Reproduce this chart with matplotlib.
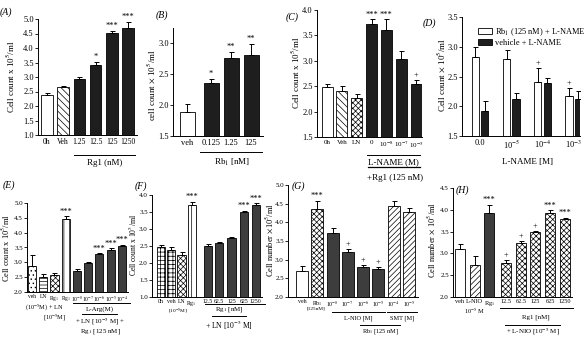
import numpy as np
import matplotlib.pyplot as plt
from matplotlib.lines import Line2D
from matplotlib.patches import Patch

W, H = 586, 342
plt.rcParams['font.family'] = ['Liberation Serif', 'DejaVu Serif']
plt.rcParams['mathtext.fontset'] = 'stix'
plt.rcParams['hatch.linewidth'] = 0.5
plt.rcParams['font.size'] = 6

# ---- data ----
a_labels = ['0h', 'Veh', '1.25', '12.5', '125', '1250']
a_vals = [2.38, 2.65, 2.92, 3.42, 4.52, 4.70]
a_err = [0.07, 0.04, 0.08, 0.10, 0.07, 0.20]
a_sig = ['', '', '', '*', '***', '***']

b_labels = ['veh', '0.125', '1.25', '125']
b_vals = [1.88, 2.35, 2.76, 2.81]
b_err = [0.14, 0.07, 0.10, 0.18]
b_sig = ['', '*', '**', '**']

c_labels = ['0h', 'Veh', 'LN', '0', r'10$^{-8}$', r'10$^{-7}$', r'10$^{-5}$']
c_vals = [2.49, 2.40, 2.27, 3.72, 3.60, 3.04, 2.55]
c_err = [0.06, 0.10, 0.08, 0.10, 0.22, 0.16, 0.07]
c_sig = ['', '', '', '***', '***', '', '+']

d_labels = ['0.0', r'10$^{-5}$', r'10$^{-4}$', r'10$^{-3}$']
d_rb1 = [2.83, 2.79, 2.40, 2.18]
d_rb1_err = [0.17, 0.16, 0.25, 0.13]
d_rb1_sig = ['', '', '+', '+']
d_veh = [1.92, 2.12, 2.39, 2.13]
d_veh_err = [0.16, 0.10, 0.09, 0.12]

e_labels = ['veh', 'LN', r'Rg$_1$', r'Rg$_1$', r'10$^{-8}$', r'10$^{-7}$',
            r'10$^{-6}$', r'10$^{-5}$', r'10$^{-4}$']
e_vals = [2.87, 2.52, 2.57, 4.45, 2.72, 2.97, 3.27, 3.42, 3.55]
e_err = [0.37, 0.08, 0.08, 0.10, 0.04, 0.03, 0.03, 0.05, 0.04]
e_sig = ['', '', '', '***', '', '', '***', '***', '***']

f_labels = ['0h', 'veh', 'LN', r'Rg$_1$', '12.5', '62.5', '125', '625', '1250']
f_vals = [2.48, 2.38, 2.25, 3.70, 2.50, 2.60, 2.73, 3.50, 3.72]
f_err = [0.04, 0.10, 0.08, 0.10, 0.06, 0.03, 0.03, 0.03, 0.04]
f_sig = ['', '', '', '***', '', '', '', '***', '***']

g_labels = ['veh', 'Rb$_1$', r'10$^{-8}$', r'10$^{-7}$', r'10$^{-6}$',
            r'10$^{-5}$', r'10$^{-4}$', r'10$^{-5}$']
g_vals = [2.70, 4.37, 3.72, 3.20, 2.80, 2.76, 4.43, 4.28]
g_err = [0.13, 0.20, 0.12, 0.08, 0.05, 0.05, 0.13, 0.10]
g_sig = ['', '***', '', '+', '+', '+', '', '']

h_labels = ['veh', 'L-NIO\n10$^{-5}$ M', r'Rg$_1$', '12.5', '62.5', '125', '625', '1250']
h_vals = [3.10, 2.73, 3.93, 2.78, 3.23, 3.48, 3.93, 3.78]
h_err = [0.12, 0.20, 0.18, 0.08, 0.06, 0.04, 0.06, 0.04]
h_sig = ['', '', '***', '+', '+', '+', '***', '***']

fig = plt.figure(figsize=(W / 100, H / 100), dpi=100)

DARK = '#1e1e1e'
GREY = '#3d3d3d'


def make_ax(x0, x1, ytop, ybot, ylim, xlim, yticks):
    ax = fig.add_axes([x0 / W, 1 - ybot / H, (x1 - x0) / W, (ybot - ytop) / H])
    ax.spines[['top', 'right']].set_visible(False)
    for s in ax.spines.values():
        s.set_linewidth(0.7)
    ax.tick_params(axis='x', length=0, pad=2, labelsize=6)
    ax.tick_params(axis='y', length=2, width=0.6, pad=1, labelsize=6)
    ax.set_ylim(*ylim)
    ax.set_xlim(*xlim)
    ax.set_yticks(yticks, ['%.1f' % t for t in yticks])
    return ax


def bars(ax, pos, vals, err, faces, hatches, sig, width, ymin):
    for p, v, fc, h in zip(pos, vals, faces, hatches):
        ax.bar(p, v - ymin, bottom=ymin, width=width, color=fc, hatch=h,
               edgecolor='k', linewidth=0.6)
    ax.errorbar(pos, vals, yerr=[np.zeros(len(vals)), err], fmt='none',
                ecolor='k', elinewidth=0.7, capsize=1.8, capthick=0.7)
    for p, v, e, s in zip(pos, vals, err, sig):
        if s:
            ax.annotate(s, (p, v + e), xytext=(0, 0.5), textcoords='offset points',
                        ha='center', va='bottom', fontsize=6)


def gline(x0, x1, y, lw=0.7):
    fig.add_artist(Line2D([x0 / W, x1 / W], [1 - y / H] * 2, color='k', lw=lw))


def ftext(x, y, s, size=6, **kw):
    fig.text(x / W, 1 - y / H, s, ha='center', va='center', fontsize=size, **kw)


def ylab(x, y, s, size=6.5):
    fig.text(x / W, 1 - y / H, s, ha='center', va='center', rotation=90, fontsize=size)


# ---- (A) ----
ax = make_ax(38, 137, 19, 135, (1.0, 5.0), (-0.55, 5.55), np.arange(1.0, 5.01, 0.5))
pos = np.arange(len(a_vals))
bars(ax, pos, a_vals, a_err, ['white', 'white'] + [DARK] * 4,
     ['', '\\\\\\\\\\'] + [''] * 4, a_sig, 0.72, 1.0)
ax.set_xticks(pos, a_labels)
ax.tick_params(axis='x', labelsize=5.5)
gline(74, 135, 155)
ftext(105, 163, 'Rg1 (nM)', 6.5)
ftext(6, 12, '(A)', 7, style='italic')
ylab(11, 77, r'Cell count x 10$^5$/ml')

# ---- (B) ----
ax = make_ax(173, 263, 28, 136, (1.5, 3.24), (-0.7, 3.8), [1.5, 2.0, 2.5, 3.0])
pos = [0, 1.2, 2.2, 3.2]
bars(ax, pos, b_vals, b_err, ['white'] + [DARK] * 3, [''] * 4, b_sig, 0.75, 1.5)
ax.set_xticks(pos, b_labels)
gline(200, 262, 152)
ftext(232, 162, r'Rb$_1$ [nM]', 6.5)
ftext(162, 15, '(B)', 7, style='italic')
ylab(151, 85, r'cell count $\times$ 10$^5$/ml')

# ---- (C) ----
ax = make_ax(317, 422, 10, 137, (1.5, 4.0), (-0.68, 6.4), np.arange(1.5, 4.01, 0.5))
pos = np.arange(len(c_vals))
bars(ax, pos, c_vals, c_err, ['white', 'white', 'white'] + [DARK] * 4,
     ['', '\\\\\\\\\\', 'xxxxxx'] + [''] * 4, c_sig, 0.74, 1.5)
ax.set_xticks(pos, c_labels)
ax.tick_params(axis='x', labelsize=5)
gline(367, 420, 155)
ftext(393, 162, 'L-NAME (M)', 6.5)
gline(368, 420, 167, 0.9)
ftext(395, 178, '+Rg1 (125 nM)', 6.5)
ftext(292, 17, '(C)', 7, style='italic')
ylab(296, 73, r'Cell count x 10$^5$/ml')

# ---- (D) ----
ax = make_ax(462, 580, 17, 136, (1.5, 3.5), (-0.58, 3.2), np.arange(1.5, 3.51, 0.5))
pos = np.arange(len(d_rb1))
bars(ax, pos - 0.15, d_rb1, d_rb1_err, ['white'] * 4, [''] * 4, d_rb1_sig, 0.23, 1.5)
bars(ax, pos + 0.15, d_veh, d_veh_err, [DARK] * 4, [''] * 4, [''] * 4, 0.23, 1.5)
ax.set_xticks(pos, d_labels)
ftext(527, 162, 'L-NAME [M]', 6.5)
ftext(429, 23, '(D)', 7, style='italic')
ylab(441, 75, r'Cell count $\times$ 10$^5$/ml')
handles = [Patch(facecolor='white', edgecolor='k', lw=0.6),
           Patch(facecolor=DARK, edgecolor='k', lw=0.6)]
ax.legend(handles, [r'Rb$_1$ (125 nM) + L-NAME', 'vehicle + L-NAME'],
          loc='upper left', bbox_to_anchor=(474 / W, 1 - 22 / H),
          bbox_transform=fig.transFigure, frameon=False, fontsize=6,
          handlelength=1.6, handleheight=0.8, labelspacing=0.15,
          borderpad=0, handletextpad=0.4)

# ---- (E) ----
ax = make_ax(27, 128, 203, 292, (2.0, 5.0), (-0.45, 8.55), np.arange(2.0, 5.01, 0.5))
pos = np.arange(len(e_vals))
bars(ax, pos, e_vals, e_err, ['white'] * 4 + [GREY] * 5,
     ['....', '-----', 'xxxxxx', '|||'] + [''] * 5, e_sig, 0.72, 2.0)
ax.set_xticks(pos, e_labels)
ax.tick_params(axis='x', labelsize=4, pad=1.5)
ax.tick_params(axis='y', labelsize=5)
ftext(44, 308, r'(10$^{-5}$M) + LN', 4.5)
ftext(55, 318, r'[10$^{-5}$M]', 4.5)
gline(73, 130, 303)
ftext(100, 309, 'L-Arg(M)', 5)
gline(82, 117, 314)
ftext(100, 322, r'+ LN [10$^{-5}$ M] +', 5)
ftext(100, 332, r'Rg$_1$ [125 nM]', 5)
ftext(9, 185, '(E)', 7, style='italic')
ylab(6, 248, r'Cell count x 10$^5$/ml', 6)

# ---- (F) ----
ax = make_ax(152, 262, 195, 297, (1.0, 4.0), (-0.9, 9.9), np.arange(1.0, 4.01, 0.5))
pos = [0, 1, 2, 3, 4.6, 5.7, 6.9, 8.1, 9.3]
bars(ax, pos, f_vals, f_err, ['white'] * 4 + [GREY] * 5,
     ['++++', '++++', 'xxxxxx', '|||'] + [''] * 5, f_sig, 0.8, 1.0)
ax.set_xticks(pos, f_labels)
ax.tick_params(axis='x', labelsize=4.2, pad=1.5)
ax.tick_params(axis='y', labelsize=5)
ftext(178, 311, r'[10$^{-5}$M]', 3.8)
gline(205, 265, 304)
ftext(229, 310, r'Rg$_1$ [nM]', 5)
gline(212, 246, 316)
ftext(229, 325, r'+ LN [10$^{-5}$ M]', 5.5)
ftext(141, 186, '(F)', 7, style='italic')
ylab(133, 245, r'Cell count x 10$^5$/ml', 5.5)

# ---- (G) ----
ax = make_ax(288, 418, 185, 297, (2.0, 5.0), (-0.92, 7.6), np.arange(2.0, 5.01, 0.5))
pos = np.arange(len(g_vals))
bars(ax, pos, g_vals, g_err, ['white', 'white'] + [GREY] * 4 + ['white'] * 2,
     ['', 'xxxxxx', '', '', '', '', '//////', '//////'], g_sig, 0.78, 2.0)
ax.set_xticks(pos, g_labels)
ax.tick_params(axis='x', labelsize=4.2, pad=1.5)
ax.tick_params(axis='y', labelsize=5)
ftext(316, 309, '[125nM]', 3.8)
gline(332, 385, 312)
ftext(358, 318, 'L-NIO [M]', 4.5)
gline(387, 417, 312)
ftext(402, 318, 'SMT [M]', 4.5)
gline(360, 400, 325)
ftext(380, 332, r'Rb$_1$ [125 nM]', 4.5)
ftext(298, 186, '(G)', 7, style='italic')
ylab(269, 240, r'Cell number $\times$10$^5$/ml', 6)

# ---- (H) ----
ax = make_ax(453, 572, 188, 297, (2.0, 4.5), (-0.48, 7.7), np.arange(2.0, 4.51, 0.5))
pos = [0, 1, 2, 3.15, 4.2, 5.15, 6.2, 7.2]
bars(ax, pos, h_vals, h_err, ['white', 'white', GREY] + ['white'] * 5,
     ['', '//////', ''] + ['xxxxxx'] * 5, h_sig, 0.69, 2.0)
ax.set_xticks(pos, h_labels)
ax.tick_params(axis='x', labelsize=4.5, pad=1.5)
ax.tick_params(axis='y', labelsize=5)
gline(500, 573, 308)
ftext(536, 317, 'Rg1 [nM]', 5)
gline(505, 560, 325)
ftext(533, 332, r'+ L-NIO [10$^{-5}$ M]', 5)
ftext(462, 190, '(H)', 7, style='italic')
ylab(431, 240, r'Cell number $\times$ 10$^5$/ml', 6)

fig.savefig('out.png', dpi=100)
